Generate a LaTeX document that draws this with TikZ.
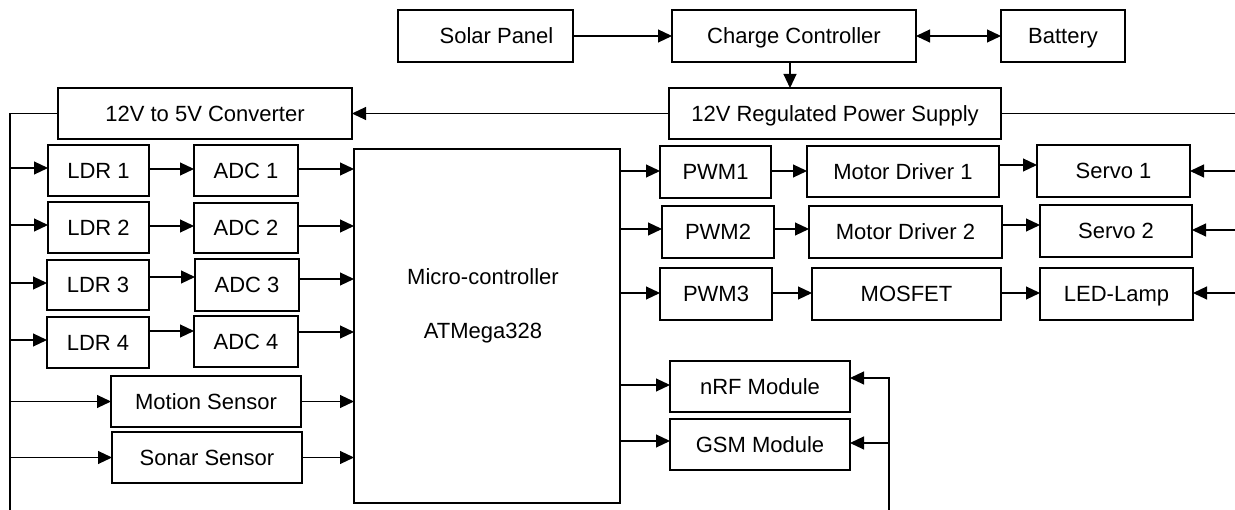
\documentclass[tikz,border=0pt]{standalone}
\usepackage{fontspec}
\setmainfont{Liberation Sans}
\usetikzlibrary{arrows.meta}
\newcommand{\mybox}[6]{\node[box, minimum width={#4-#2}, minimum height={#5-#3}] (#1) at ({(#2+#4)/2},{(#3+#5)/2}) {#6};}
\begin{document}
\begin{tikzpicture}[x=1pt,y=-1pt,
  box/.style={draw, line width=2.4pt, inner sep=0pt, outer sep=0pt, text height=15.5pt, text depth=0pt,
    font=\fontsize{22pt}{26pt}\selectfont},
  conn/.style={line width=1.1pt},
  arr/.style={conn, -{Triangle[length=14pt,width=13pt]}},
  arrb/.style={conn, {Triangle[length=14pt,width=13pt]}-{Triangle[length=14pt,width=13pt]}},
  lbl/.style={inner sep=0pt, anchor=base, font=\fontsize{22pt}{26pt}\selectfont}]
\useasboundingbox (0,0) rectangle (1235,510);
% boxes
\mybox{solar}{398}{10}{573}{62}{\hspace*{22pt}Solar Panel}
\mybox{charge}{672}{10}{916}{62}{Charge Controller}
\mybox{battery}{1001}{10}{1125}{62}{Battery}
\mybox{reg}{669}{88}{1001}{139}{12V Regulated Power Supply}
\mybox{conv}{58}{88}{352}{139}{12V to 5V Converter}
\mybox{ldr1}{48}{145}{149}{196}{LDR 1}
\mybox{adc1}{194}{145}{298}{196}{ADC 1}
\mybox{ldr2}{48}{202}{149}{253}{LDR 2}
\mybox{adc2}{194}{203}{298}{253}{ADC 2}
\mybox{ldr3}{47}{260}{149}{310}{LDR 3}
\mybox{adc3}{195}{259}{299}{311}{ADC 3}
\mybox{ldr4}{47}{317}{149}{368}{LDR 4}
\mybox{adc4}{194}{316}{298}{367}{ADC 4}
\mybox{motion}{111}{376}{301}{427}{Motion Sensor}
\mybox{sonar}{112}{432}{302}{483}{Sonar Sensor}
\mybox{mcu}{354}{149}{620}{503}{}
\node[lbl] (mcuA) at (483,285) {Micro-controller};
\node[lbl] (mcuB) at (483,339) {ATMega328};
\mybox{pwm1}{660}{146}{771}{198}{PWM1}
\mybox{md1}{807}{146}{999}{197}{Motor Driver 1}
\mybox{servo1}{1037}{145}{1190}{197}{Servo 1}
\mybox{pwm2}{662}{206}{774}{258}{PWM2}
\mybox{md2}{809}{206}{1002}{258}{Motor Driver 2}
\mybox{servo2}{1040}{205}{1192}{257}{Servo 2}
\mybox{pwm3}{660}{268}{772}{320}{PWM3}
\mybox{mosfet}{812}{268}{1001}{320}{MOSFET}
\mybox{led}{1040}{268}{1193}{320}{LED-Lamp}
\mybox{nrf}{670}{361}{850}{412}{nRF Module}
\mybox{gsm}{670}{419}{850}{470}{GSM Module}
% coordinates
\coordinate (busTop) at (10,113.5);
\coordinate (busBot) at (10,510);
\coordinate (regR) at (1235,113.5);
\coordinate (inS1) at (1235,171);
\coordinate (inS2) at (1235,230);
\coordinate (inL) at (1235,293);
\coordinate (rbTop) at (889,378);
\coordinate (rbBot) at (889,510);
% power
\draw[arr] (solar.east) -- (charge.west);
\draw[arrb] (charge.east) -- (battery.west);
\draw[arr] ([xshift=-4pt]charge.south) -- ([xshift=-4pt]charge.south |- reg.north);
\draw[arr] (reg.west) -- (conv.east);
\draw[conn] (reg.east) -- (regR);
\draw[conn] (conv.west) -- (busTop) -- (busBot);
% left bus to sensors
\draw[arr] (busBot |- 0,168) -- (ldr1.west |- 0,168);
\draw[arr] (busBot |- 0,225) -- (ldr2.west |- 0,225);
\draw[arr] (busBot |- 0,283) -- (ldr3.west |- 0,283);
\draw[arr] (busBot |- 0,340) -- (ldr4.west |- 0,340);
\draw[arr] (busBot |- motion.west) -- (motion.west);
\draw[arr] (busBot |- sonar.west) -- (sonar.west);
% LDR to ADC
\draw[arr] (ldr1.east |- 0,169) -- (adc1.west |- 0,169);
\draw[arr] (ldr2.east |- 0,226) -- (adc2.west |- 0,226);
\draw[arr] (ldr3.east |- 0,277) -- (adc3.west |- 0,277);
\draw[arr] (ldr4.east |- 0,331) -- (adc4.west |- 0,331);
% to MCU
\draw[arr] (adc1.east |- 0,169) -- (mcu.west |- 0,169);
\draw[arr] (adc2.east |- 0,226) -- (mcu.west |- 0,226);
\draw[arr] (adc3.east |- 0,279) -- (mcu.west |- 0,279);
\draw[arr] (adc4.east |- 0,332) -- (mcu.west |- 0,332);
\draw[arr] (motion.east) -- (mcu.west |- motion.east);
\draw[arr] (sonar.east) -- (mcu.west |- sonar.east);
% MCU outputs
\draw[arr] (mcu.east |- 0,171) -- (pwm1.west |- 0,171);
\draw[arr] (mcu.east |- 0,229) -- (pwm2.west |- 0,229);
\draw[arr] (mcu.east |- 0,293) -- (pwm3.west |- 0,293);
\draw[arr] (pwm1.east |- 0,171) -- (md1.west |- 0,171);
\draw[arr] (pwm2.east |- 0,229) -- (md2.west |- 0,229);
\draw[arr] (pwm3.east |- 0,293) -- (mosfet.west |- 0,293);
\draw[arr] (md1.east |- 0,165) -- (servo1.west |- 0,165);
\draw[arr] (md2.east |- 0,225) -- (servo2.west |- 0,225);
\draw[arr] (mosfet.east |- 0,293) -- (led.west |- 0,293);
\draw[arr] (inS1) -- (servo1.east |- inS1);
\draw[arr] (inS2) -- (servo2.east |- inS2);
\draw[arr] (inL) -- (led.east |- inL);
\draw[arr] (mcu.east |- 0,385) -- (nrf.west |- 0,385);
\draw[arr] (mcu.east |- 0,441) -- (gsm.west |- 0,441);
\draw[arr] (rbBot) -- (rbTop) -- (nrf.east |- rbTop);
\draw[arr] (rbBot |- 0,443) -- (gsm.east |- 0,443);
\end{tikzpicture}
\end{document}
